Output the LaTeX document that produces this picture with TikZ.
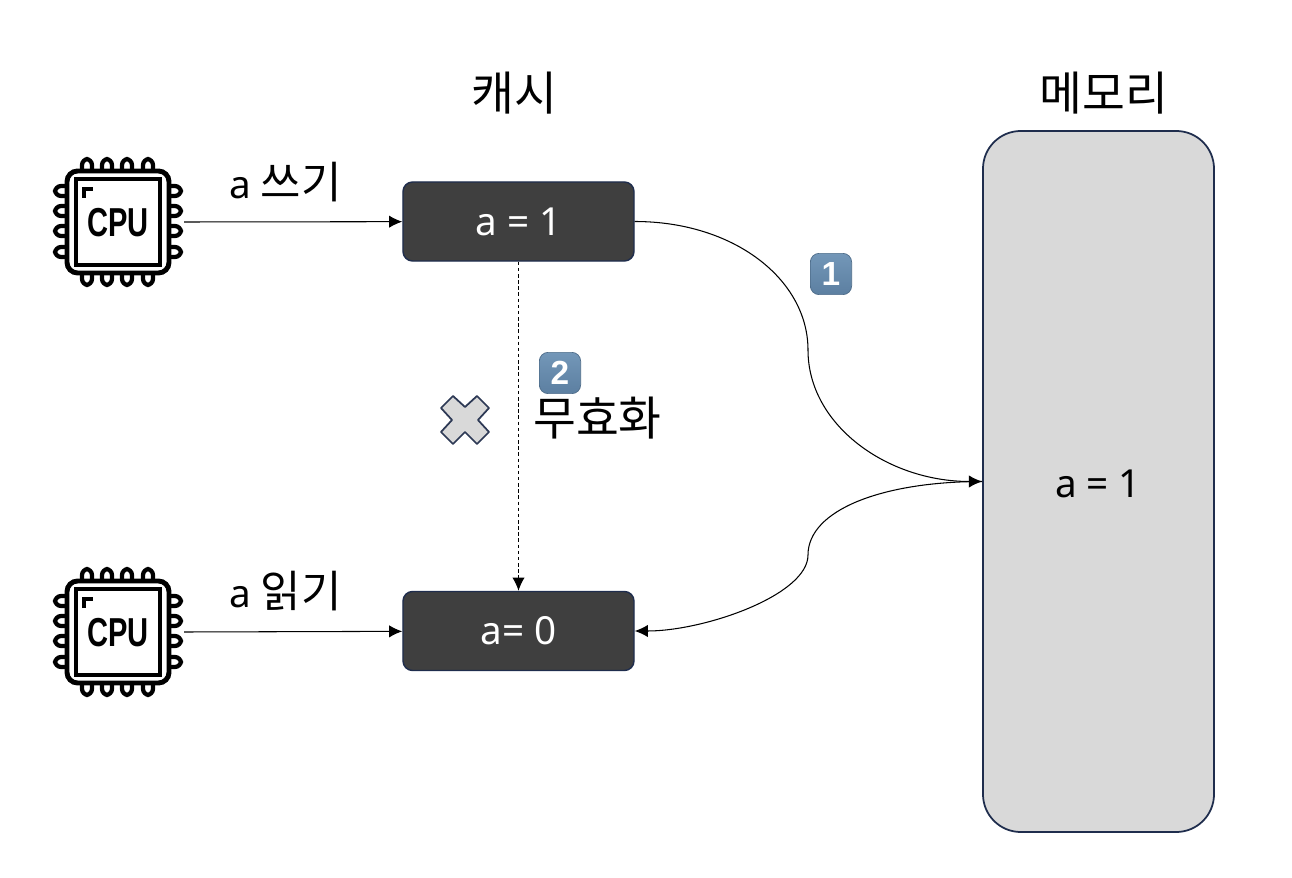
\documentclass[tikz,border=0pt]{standalone}
\usepackage{fontspec}
\setmainfont{Noto Sans}
\newfontfamily\kor{Noto Sans CJK KR}
\newfontfamily\iconfont{Liberation Sans}
\usetikzlibrary{arrows.meta}
\definecolor{boxdark}{HTML}{3F3F3F}
\definecolor{boxedge}{HTML}{1F2D4D}
\definecolor{memgray}{HTML}{D9D9D9}
\definecolor{badgetop}{HTML}{7397B8}
\definecolor{badgebot}{HTML}{5C7FA1}
\tikzset{
  cachebox/.style={draw=boxedge, fill=boxdark, text=white, line width=.8pt, rounded corners=5.5pt, minimum width=131.5pt, minimum height=45pt, inner sep=0pt, font=\fontsize{22}{26}\selectfont},
  title/.style={font=\kor\fontsize{26.5}{30}\selectfont, inner sep=0pt},
  oplabel/.style={font=\fontsize{22}{26}\selectfont, inner sep=0pt},
  badge/.style={draw=badgebot!85!black, line width=.4pt, rounded corners=5pt, top color=badgetop, bottom color=badgebot, text=white, minimum size=23.5pt, inner sep=0pt, font=\iconfont\bfseries\fontsize{19}{19}\selectfont},
  cpuline/.style={line width=2.4pt, rounded corners=3.5pt},
  link/.style={-{Latex[length=7.5pt,width=7pt]}, line width=.6pt},
  cpu/.pic={
    \draw[cpuline, line width=2.8pt, rounded corners=6pt] (-51,-51) rectangle (51,51);
    \draw[cpuline, rounded corners=0pt, line width=2.2pt] (-42,-43) rectangle (42,43);
    \draw[line width=2.2pt] (-34,-24) -- (-34,-33) -- (-25,-33);
    \foreach \p in {-31,-11,9,30} {
      \draw[cpuline] (\p-5,-51) -- ++(0,-12) -- ++(10,0) -- ++(0,12);
      \draw[cpuline] (\p-5,51) -- ++(0,12) -- ++(10,0) -- ++(0,-12);
      \draw[cpuline] (-51,\p-5) -- ++(-12,0) -- ++(0,10) -- ++(12,0);
      \draw[cpuline] (51,\p-5) -- ++(12,0) -- ++(0,10) -- ++(-12,0);
    }
    \node[xscale=.72, inner sep=0pt, font=\iconfont\bfseries\fontsize{23}{23}\selectfont] at (0,1) {CPU};
  }
}
\begin{document}
\begin{tikzpicture}[x=.02cm,y=-.02cm]
  \useasboundingbox (0,0) rectangle (1292,878);

  % cpu icons
  \pic at (118,222) {cpu};
  \pic at (118,632) {cpu};
  \coordinate (cpuwrite) at (184,222);
  \coordinate (cpuread) at (184,632);

  % boxes
  \node[cachebox] (cachewrite) at (518.5,221.5) {a = 1};
  \node[cachebox] (cacheread) at (518.5,631) {a= 0};
  \node[draw=boxedge, fill=memgray, line width=1pt, rounded corners=21.5pt, minimum width=131.5pt, minimum height=399pt, inner sep=0pt] (memory) at (1098.5,481.5) {};
  \node[font=\fontsize{22}{26}\selectfont, inner sep=0pt] (memvalue) at (1098,484) {a = 1};

  % labels
  \node[title] (cachetitle) at (514,93) {캐시};
  \node[title] (memtitle) at (1104,93) {메모리};
  \node[oplabel] (writelabel) at (285.5,182) {a {\kor\fontsize{25}{28}\selectfont 쓰기}};
  \node[oplabel] (readlabel) at (285.5,591) {a {\kor\fontsize{25}{28}\selectfont 읽기}};
  \node[title] (invalidlabel) at (597.5,418) {무효화};
  \node[badge] (badgeone) at (831,274) {1};
  \node[badge] (badgetwo) at (560,373) {2};

  % blocked mark
  \draw[draw=boxedge!85!gray, fill=memgray, line width=1pt, line join=round]
    (465,407) -- (477,396) -- (489,408) -- (478,420) -- (489,432) -- (477,444)
    -- (465,432) -- (453,444) -- (441,432) -- (452,420) -- (441,408) -- (453,396) -- cycle;

  % connectors
  \draw[link] (cpuwrite) -- (cachewrite);
  \draw[link] (cpuread) -- (cacheread);
  \draw[link, dash pattern=on 2pt off 1.5pt] (cachewrite) -- (cacheread);
  \coordinate (bendup) at (808,350);
  \coordinate (benddown) at (808,555);
  \draw[link] (cachewrite.east) .. controls +(100,0) and +(0,-70) .. (bendup)
     .. controls +(0,75) and +(-95,0) .. (memory.west);
  \draw[link] (memory.west) .. controls +(-100,0) and +(0,-45) .. (benddown)
     .. controls +(0,40) and +(70,0) .. (cacheread.east);
\end{tikzpicture}
\end{document}
